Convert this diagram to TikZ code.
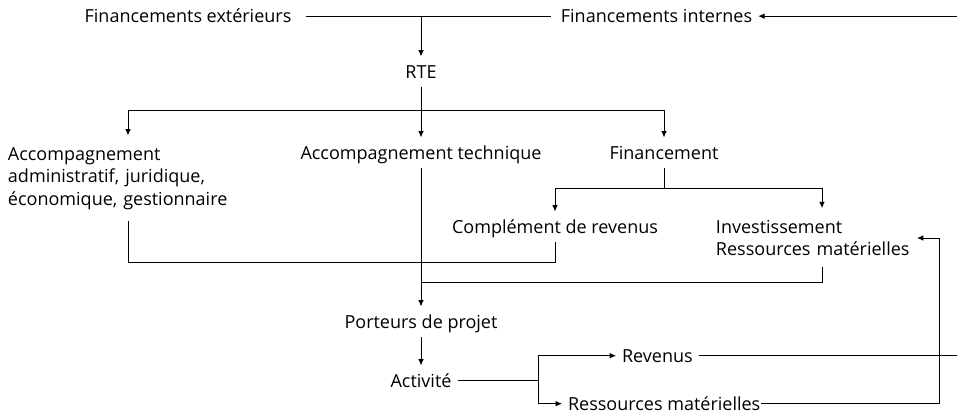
\documentclass[tikz,border=0pt]{standalone}
\usepackage{fontspec}
\setmainfont{Open Sans}
\usetikzlibrary{arrows.meta}
\tikzset{
  lbl/.style={anchor=base, inner xsep=4pt, inner ysep=2pt,
    text height=13pt, text depth=4pt, font=\fontsize{12.8}{16}\selectfont},
  bloc/.style={anchor=base, inner xsep=0pt, inner ysep=8pt, align=left,
    font=\fontsize{12.8}{16}\selectfont},
  fleche/.style={-{Latex[length=4.5pt,width=4pt]}},
}
\begin{document}
\begin{tikzpicture}[x=0.025cm, y=-0.025cm, line width=0.65pt]
        \useasboundingbox (0,0) rectangle (957,417);
        % 融资来源
        \node[lbl] (fext) at (188,22.5) {Financements extérieurs};
        \node[lbl] (fint) at (656.5,22.5) {Financements internes};
        \node[lbl] (rte) at (421,78) {RTE};
        % 三种支持
        \node[bloc, text width=6cm] (aadm) at (128,160) {Accompagnement\\administratif, juridique,\\économique, gestionnaire};
        \node[lbl] (atech) at (421,159) {Accompagnement technique};
        \node[lbl] (fin) at (664,159) {Financement};
        \node[lbl] (compl) at (555,233) {Complément de revenus};
        \node[bloc, text width=5.3cm] (invest) at (822,233) {Investissement\\Ressources matérielles};
        % 项目与活动
        \node[lbl] (port) at (421,328) {Porteurs de projet};
        \node[lbl] (act) at (421,387) {Activité};
        \node[lbl, anchor=base west] (rev) at (616,362) {Revenus};
        \node[lbl, anchor=base west] (resm) at (562,410) {Ressources matérielles};
        % 分叉点
        \coordinate (bordR) at (957,0);
        \coordinate (split1) at (421,110);
        \coordinate (split2) at (664,188);
        \coordinate (merge1) at (421,262);
        \coordinate (merge2) at (421,282);
        \coordinate (split3x) at (538,0);
        \coordinate (split3) at (act.east -| split3x);
        \coordinate (loopR) at (939,238);
        \coordinate (investin) at (917,238);
        % 连线
        \draw[shorten <=6pt, shorten >=3pt] (fext.east) -- (fint.west);
        \draw[fleche] (fint.east -| bordR) -- (fint.east);
        \draw[fleche] (rte.north |- fext.east) -- (rte.north);
        \draw (rte.south) -- (split1);
        \draw[fleche] (split1) -| (aadm.north);
        \draw[fleche] (split1) -- (atech.north);
        \draw[fleche] (split1) -| (fin.north);
        \draw (fin.south) -- (split2);
        \draw[fleche] (split2) -| (compl.north);
        \draw[fleche] (split2) -| (invest.north);
        \draw (aadm.south) |- (merge1) -| (compl.south);
        \draw (invest.south) |- (merge2);
        \draw[fleche] (atech.south) -- (port.north);
        \draw[fleche] (port.south) -- (act.north);
        \draw (act.east) -- (split3);
        \draw[fleche] (split3) |- (rev.west);
        \draw[fleche] (split3) |- (resm.west);
        \draw (rev.east) -- (rev.east -| bordR);
        \draw[fleche, shorten <=-4pt] (resm.east) -| (loopR) -- (investin);
    \end{tikzpicture}
\end{document}
